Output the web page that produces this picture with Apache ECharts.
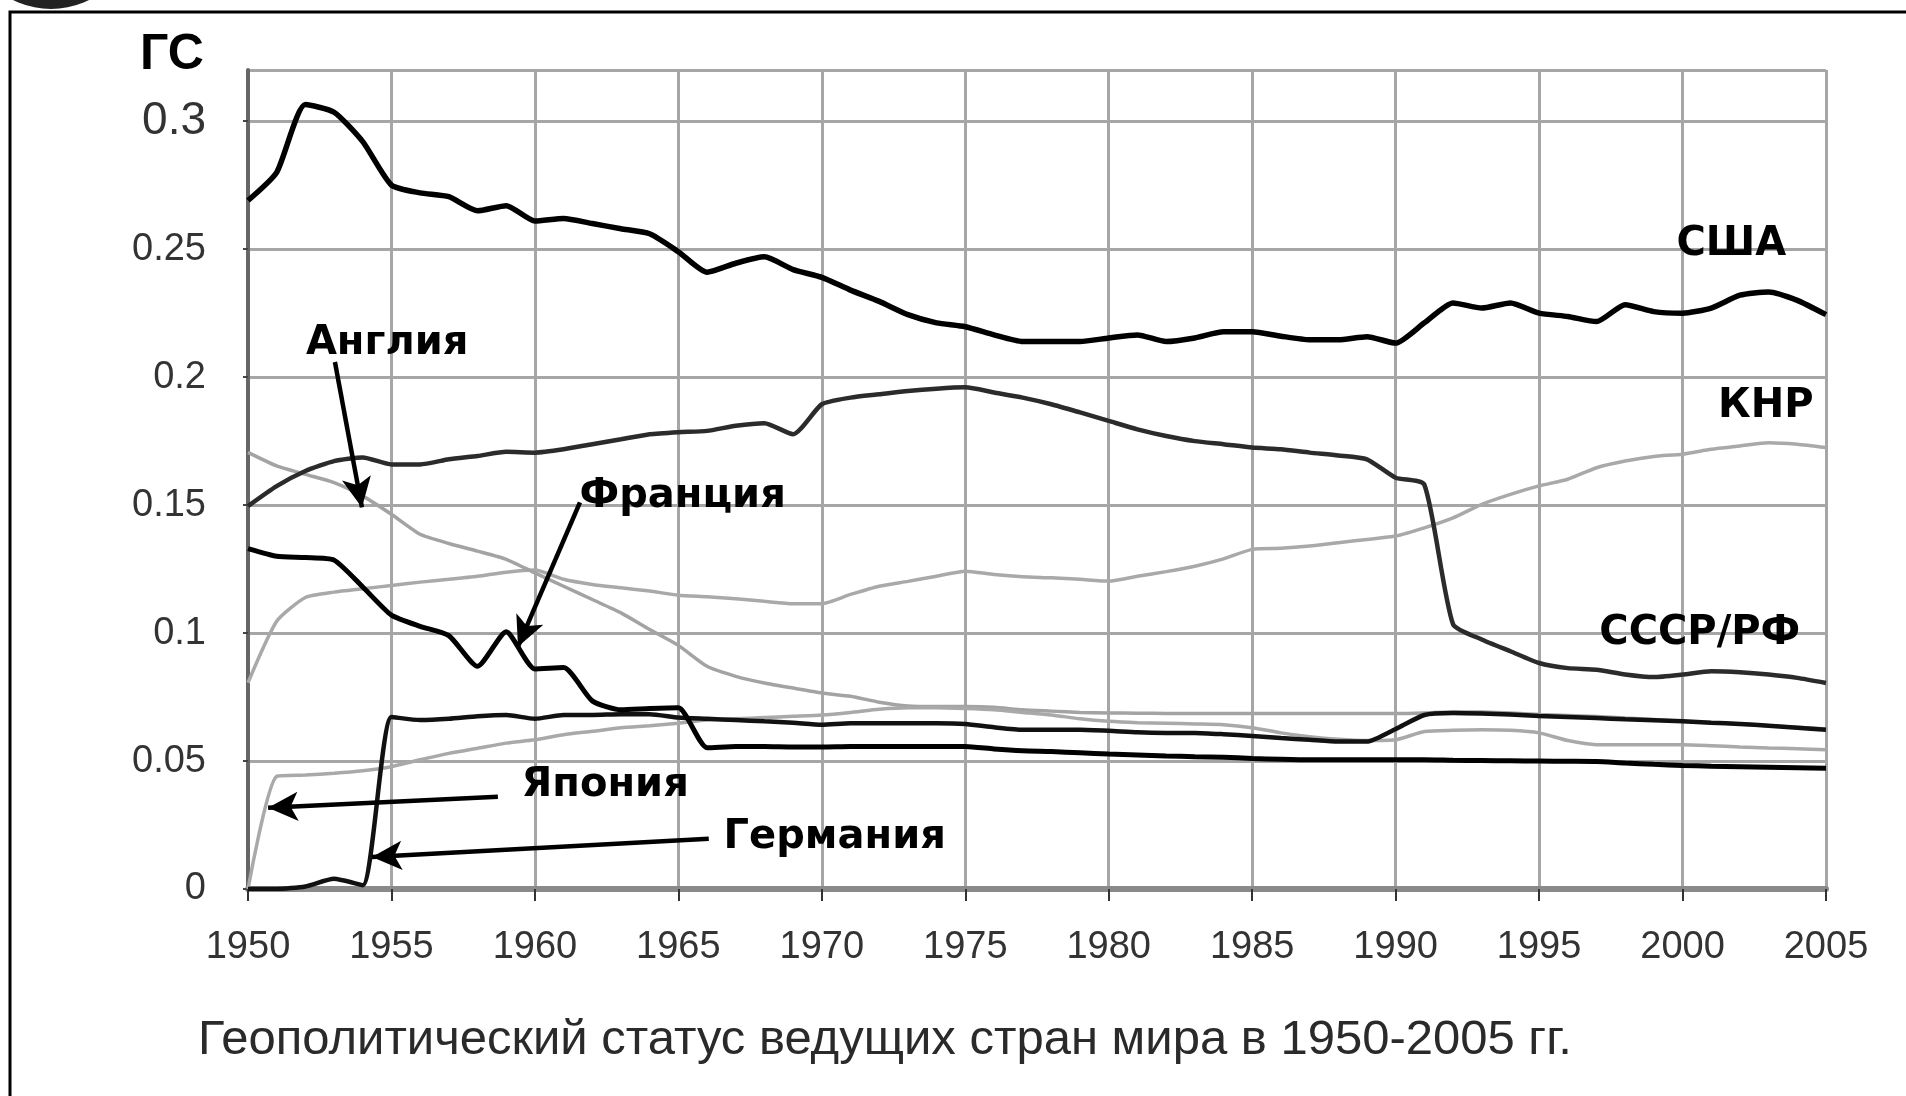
<!DOCTYPE html>
<html>
<head>
<meta charset="utf-8">
<title>Геополитический статус</title>
<script src="https://cdn.jsdelivr.net/npm/echarts@6/dist/echarts.min.js"></script>
<style>
	html, body { margin:0; padding:0; background:#fff; }
	#chart { width:1906px; height:1096px; }
</style>
</head>
<body>
<div id="chart"></div>
<script>
//------------------------数据-开始------------------//
var years = [
	1950,1951,1952,1953,1954,1955,1956,1957,1958,1959,
	1960,1961,1962,1963,1964,1965,1966,1967,1968,1969,
	1970,1971,1972,1973,1974,1975,1976,1977,1978,1979,
	1980,1981,1982,1983,1984,1985,1986,1987,1988,1989,
	1990,1991,1992,1993,1994,1995,1996,1997,1998,1999,
	2000,2001,2002,2003,2004,2005
];
var usa = [
	0.269,0.280,0.3065,0.3035,0.292,0.275,0.272,0.2705,0.265,0.267,
	0.261,0.262,0.260,0.258,0.256,0.249,0.241,0.2445,0.247,0.242,
	0.239,0.234,0.2296,0.2244,0.2212,0.2197,0.2165,0.2139,0.2139,0.2139,
	0.2153,0.2165,0.2139,0.2153,0.2177,0.2177,0.216,0.2146,0.2146,0.2158,
	0.2133,0.2212,0.229,0.227,0.229,0.225,0.2237,0.2217,0.2283,0.2256,
	0.225,0.227,0.232,0.2333,0.230,0.2244
];
var ussr = [
	0.1496,0.1574,0.1633,0.1672,0.1686,0.1659,0.1659,0.1679,0.1692,0.1708,
	0.1705,0.1718,0.1738,0.1757,0.1777,0.1785,0.179,0.181,0.182,0.1777,
	0.1894,0.192,0.1933,0.1946,0.1955,0.196,0.194,0.192,0.1894,0.1862,
	0.1829,0.1796,0.177,0.175,0.1738,0.1725,0.1718,0.1705,0.1694,0.1679,
	0.1607,0.158,0.1035,0.0975,0.0929,0.0883,0.0863,0.0857,0.0838,0.0828,
	0.0838,0.0851,0.0847,0.0838,0.0825,0.0805
];
var china = [
	0.0806,0.1046,0.1139,0.116,0.1173,0.1186,0.1199,0.121,0.1222,0.1238,
	0.1246,0.121,0.119,0.1177,0.1164,0.1148,0.1142,0.1134,0.1124,0.1115,
	0.1115,0.1151,0.1183,0.1202,0.1222,0.1242,0.1229,0.122,0.1216,0.121,
	0.1203,0.1222,0.124,0.1261,0.129,0.1327,0.1331,0.134,0.1353,0.1366,
	0.1379,0.1411,0.145,0.1503,0.1542,0.1575,0.1601,0.1646,0.1672,0.169,
	0.1699,0.1718,0.1731,0.1744,0.1738,0.1725
];
var england = [
	0.1706,0.1653,0.162,0.1588,0.1535,0.1464,0.1386,0.135,0.132,0.1288,
	0.1235,0.1183,0.1131,0.1079,0.1014,0.0952,0.087,0.0831,0.0805,0.0785,
	0.0766,0.0753,0.073,0.0715,0.0713,0.0713,0.071,0.070,0.0695,0.069,
	0.0688,0.0687,0.0686,0.0686,0.0686,0.0686,0.0686,0.0686,0.0686,0.0686,
	0.0686,0.0688,0.0692,0.0692,0.0688,0.0682,0.0678,0.0674,0.0668,0.0662,
	0.0655,0.065,0.0645,0.0638,0.0632,0.0625
];
var france = [
	0.133,0.130,0.1295,0.1285,0.118,0.107,0.1026,0.099,0.087,0.1005,
	0.086,0.0865,0.0735,0.0700,0.0705,0.0708,0.0552,0.0557,0.0557,0.0555,
	0.0555,0.0557,0.0557,0.0557,0.0557,0.0557,0.0547,0.054,0.0537,0.0532,
	0.0527,0.0524,0.052,0.0517,0.0515,0.051,0.0507,0.0505,0.0505,0.0505,
	0.0505,0.0505,0.0503,0.0502,0.0501,0.05,0.0499,0.0498,0.0492,0.0487,
	0.0483,0.048,0.0478,0.0476,0.0474,0.0472
];
var germany = [
	0,0,0.001,0.004,0.0015,0.0672,0.066,0.0665,0.0675,0.068,
	0.0665,0.068,0.068,0.0683,0.0683,0.067,0.0665,0.066,0.0655,0.065,
	0.0642,0.0648,0.0648,0.0648,0.0648,0.0645,0.0632,0.0622,0.0622,0.0622,
	0.0618,0.0612,0.061,0.061,0.0605,0.0598,0.059,0.0583,0.0576,0.0576,
	0.0625,0.068,0.0688,0.0686,0.0682,0.0676,0.0672,0.0668,0.0663,0.0659,
	0.0655,0.065,0.0645,0.0638,0.063,0.0622
];
var japan = [
	0,0.044,0.0445,0.0452,0.0462,0.0478,0.0505,0.053,0.055,0.057,
	0.0583,0.0603,0.0616,0.063,0.0638,0.0648,0.066,0.0665,0.067,0.0675,
	0.068,0.069,0.0702,0.0708,0.0708,0.0705,0.070,0.069,0.068,0.0665,
	0.0655,0.065,0.0648,0.0645,0.0642,0.063,0.061,0.0595,0.0585,0.058,
	0.0583,0.0615,0.062,0.0622,0.062,0.061,0.058,0.0564,0.0564,0.0564,
	0.0564,0.056,0.0555,0.0551,0.0548,0.0544
];
//------------------------数据-结束------------------//

//------------------------注释-开始------------------//
// label centres and arrows, in data units (year, value)
var countryLabels = [
	{text:'США',      at:[2001.7, 0.2517]},
	{text:'КНР',      at:[2002.9, 0.1883]},
	{text:'СССР/РФ',  at:[2000.6, 0.0998]},
	{text:'Англия',   at:[1954.85, 0.2129]},
	{text:'Франция',  at:[1965.15, 0.1534]},
	{text:'Япония',   at:[1962.45, 0.0403]},
	{text:'Германия', at:[1970.45, 0.0200]}
];
var arrows = [
	[[1953.03, 0.2059], [1953.97, 0.1491]],
	[[1961.57, 0.1511], [1959.41, 0.0947]],
	[[1958.71, 0.0360], [1950.70, 0.0317]],
	[[1966.06, 0.0196], [1954.32, 0.0125]]
];
//------------------------注释-结束------------------//

function pairs(values)
{
	return years.map(function(y, i){ return [y, values[i]]; });
}

function lineSeries(name, values, color, width)
{
	return {
		name:name,
		type:'line',
		data:pairs(values),
		showSymbol:false,
		smooth:0.2,
		lineStyle:{ color:color, width:width },
		itemStyle:{ color:color },
		z:3
	};
}

var myChart = echarts.init(document.getElementById('chart'));

var option = {
	animation:false,
	backgroundColor:'#fff',
	grid:{ left:248, right:80, top:70, bottom:207 },
	xAxis:{
		type:'value',
		min:1950,
		max:2005,
		interval:5,
		axisLine:{ show:true, onZero:false, lineStyle:{ color:'#8a8a8a', width:6 } },
		axisTick:{ show:true, length:12, lineStyle:{ color:'#333', width:2 } },
		axisLabel:{
			margin:40,
			fontSize:38,
			color:'#333',
			fontFamily:'Liberation Sans, Arial, sans-serif',
			formatter:function(v){ return String(v); }
		},
		splitLine:{ show:true, lineStyle:{ color:'#a6a6a6', width:3 } }
	},
	yAxis:{
		type:'value',
		min:0,
		max:0.32,
		interval:0.05,
		axisLine:{ show:true, lineStyle:{ color:'#666', width:4 } },
		axisTick:{ show:true, length:5, lineStyle:{ color:'#444', width:2 } },
		axisLabel:{
			margin:42,
			fontSize:38,
			color:'#333',
			showMaxLabel:false,
			fontFamily:'Liberation Sans, Arial, sans-serif',
			formatter:function(v){
				if (Math.abs(v - 0.3) < 1e-9) return '{big|0.3}';
				return String(+v.toFixed(2));
			},
			rich:{ big:{ fontSize:46, color:'#333', fontFamily:'Liberation Sans, Arial, sans-serif' } }
		},
		splitLine:{ show:true, lineStyle:{ color:'#a6a6a6', width:3 } }
	},
	series:[
		lineSeries('КНР', china, '#a9a9a9', 3.5),
		lineSeries('Англия', england, '#a3a3a3', 3.5),
		lineSeries('Япония', japan, '#a9a9a9', 3.5),
		lineSeries('СССР/РФ', ussr, '#2b2b2b', 4.5),
		lineSeries('Германия', germany, '#111', 4.5),
		lineSeries('Франция', france, '#000', 5),
		lineSeries('США', usa, '#000', 5.5),
		{
			name:'arrows',
			type:'line',
			data:[],
			z:5,
			markLine:{
				silent:true,
				animation:false,
				symbol:['none', 'arrow'],
				symbolSize:[22, 30],
				label:{ show:false },
				lineStyle:{ color:'#000', width:4.5, type:'solid' },
				data:arrows.map(function(a){
					return [{ coord:a[0] }, { coord:a[1] }];
				})
			}
		}
	]
};
myChart.setOption(option);

//------------------------文字与边框-开始------------------//
function buildGraphic()
{
	var items = [
		{
			type:'rect',
			shape:{ x:10, y:12, width:1960, height:1160 },
			style:{ fill:'none', stroke:'#000', lineWidth:3 },
			silent:true
		},
		{
			type:'circle',
			shape:{ cx:51, cy:-76, r:85 },
			style:{ fill:'#222' },
			silent:true
		},
		{
			type:'text',
			x:140,
			y:55,
			style:{
				text:'ГС',
				fill:'#000',
				font:'bold 50px "Liberation Sans", Arial, sans-serif',
				textVerticalAlign:'middle'
			}
		},
		{
			type:'text',
			x:198,
			y:1040,
			style:{
				text:'Геополитический статус ведущих стран мира в 1950-2005 гг.',
				fill:'#2a2a2a',
				font:'49px "Liberation Sans", Arial, sans-serif',
				textVerticalAlign:'middle'
			}
		}
	];
	countryLabels.forEach(function(item){
		var p = myChart.convertToPixel({ gridIndex:0 }, item.at);
		items.push({
			type:'text',
			x:p[0],
			y:p[1],
			z:10,
			style:{
				text:item.text,
				fill:'#000',
				font:'bold 40px "DejaVu Sans", sans-serif',
				textAlign:'center',
				textVerticalAlign:'middle'
			}
		});
	});
	return items;
}
myChart.setOption({ graphic:buildGraphic() });
//------------------------文字与边框-结束------------------//
</script>
</body>
</html>
